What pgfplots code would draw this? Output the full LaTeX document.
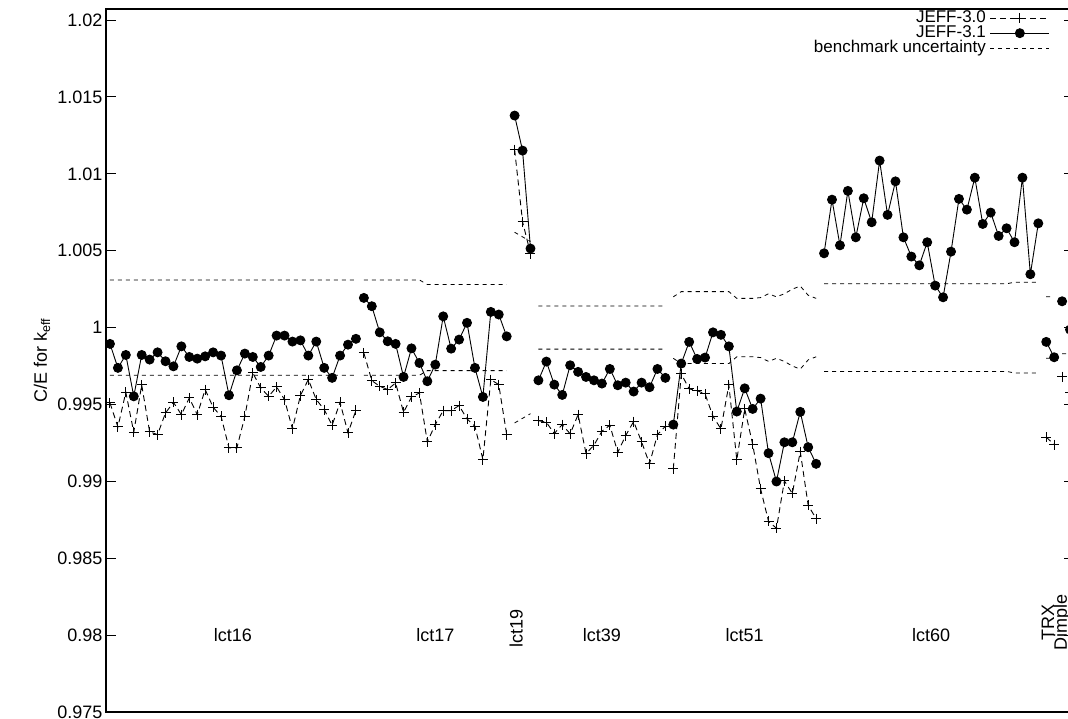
\documentclass[border=0pt]{standalone}
\usepackage{fontspec}
\setmainfont{Liberation Sans}
\usepackage{pgfplots}
\usepackage{pgfplotstable}
\pgfplotsset{compat=1.18}

% JEFF-3.1 (index, C/E); nan rows separate the benchmark groups
\pgfplotstableread{
x y
0 0.99894
1 0.99738
2 0.99822
3 0.99553
4 0.99822
5 0.99792
6 0.99839
7 0.99781
8 0.99748
9 0.99878
10 0.99809
11 0.99798
12 0.99813
13 0.99839
14 0.99818
15 0.99560
16 0.99722
17 0.99831
18 0.99809
19 0.99744
20 0.99818
21 0.99948
22 0.99948
23 0.99909
24 0.99917
25 0.99818
26 0.99909
27 0.99738
28 0.99673
29 0.99818
30 0.99889
31 0.99927
nan nan
32 1.00193
33 1.00139
34 0.99969
35 0.99911
36 0.99894
37 0.99679
38 0.99865
39 0.99770
40 0.99651
41 0.99759
42 1.00073
43 0.99863
44 0.99922
45 1.00031
46 0.99738
47 0.99549
48 1.00102
49 1.00085
50 0.99943
nan nan
51 1.01379
52 1.01151
53 1.00514
nan nan
54 0.99657
55 0.99779
56 0.99629
57 0.99562
58 0.99755
59 0.99712
60 0.99679
61 0.99657
62 0.99636
63 0.99731
64 0.99625
65 0.99642
66 0.99584
67 0.99642
68 0.99612
69 0.99731
70 0.99673
nan nan
71 0.99369
72 0.99766
73 0.99907
74 0.99796
75 0.99805
76 0.99969
77 0.99953
78 0.99878
79 0.99454
80 0.99605
81 0.99471
82 0.99538
83 0.99183
84 0.98999
85 0.99254
86 0.99254
87 0.99452
88 0.99222
89 0.99114
nan nan
90 1.00483
91 1.00832
92 1.00535
93 1.00889
94 1.00587
95 1.00841
96 1.00685
97 1.01086
98 1.00733
99 1.00951
100 1.00587
101 1.00462
102 1.00405
103 1.00555
104 1.00273
105 1.00197
106 1.00494
107 1.00837
108 1.00767
109 1.00975
110 1.00674
111 1.00748
112 1.00596
113 1.00646
114 1.00555
115 1.00975
116 1.00347
117 1.00678
nan nan
118 0.99907
119 0.99807
nan nan
120 1.00171
nan nan
121 0.99987
}\jeffone

% JEFF-3.0
\pgfplotstableread{
x y
0 0.99510
1 0.99354
2 0.99579
3 0.99319
4 0.99627
5 0.99322
6 0.99304
7 0.99445
8 0.99514
9 0.99434
10 0.99543
11 0.99434
12 0.99597
13 0.99482
14 0.99423
15 0.99218
16 0.99218
17 0.99423
18 0.99705
19 0.99608
20 0.99553
21 0.99614
22 0.99532
23 0.99341
24 0.99558
25 0.99662
26 0.99532
27 0.99467
28 0.99365
29 0.99514
30 0.99315
31 0.99462
nan nan
32 0.99835
33 0.99655
34 0.99618
35 0.99597
36 0.99640
37 0.99449
38 0.99549
39 0.99575
40 0.99257
41 0.99369
42 0.99460
43 0.99460
44 0.99493
45 0.99406
46 0.99358
47 0.99142
48 0.99662
49 0.99629
50 0.99304
nan nan
51 1.01157
52 1.00689
53 1.00481
nan nan
54 0.99395
55 0.99384
56 0.99311
57 0.99369
58 0.99309
59 0.99434
60 0.99181
61 0.99235
62 0.99326
63 0.99365
64 0.99189
65 0.99298
66 0.99389
67 0.99257
68 0.99114
69 0.99304
70 0.99358
nan nan
71 0.99081
72 0.99699
73 0.99601
74 0.99590
75 0.99569
76 0.99423
77 0.99341
78 0.99627
79 0.99140
80 0.99471
81 0.99241
82 0.98951
83 0.98740
84 0.98695
85 0.99003
86 0.98921
87 0.99194
88 0.98843
89 0.98758
nan nan
118 0.99288
119 0.99239
nan nan
120 0.99681
nan nan
121 0.99577
}\jeffzero

% benchmark uncertainty: upper and lower bounds
\pgfplotstableread{
x up lo
0 1.0031 0.9969
1 1.0031 0.9969
2 1.0031 0.9969
3 1.0031 0.9969
4 1.0031 0.9969
5 1.0031 0.9969
6 1.0031 0.9969
7 1.0031 0.9969
8 1.0031 0.9969
9 1.0031 0.9969
10 1.0031 0.9969
11 1.0031 0.9969
12 1.0031 0.9969
13 1.0031 0.9969
14 1.0031 0.9969
15 1.0031 0.9969
16 1.0031 0.9969
17 1.0031 0.9969
18 1.0031 0.9969
19 1.0031 0.9969
20 1.0031 0.9969
21 1.0031 0.9969
22 1.0031 0.9969
23 1.0031 0.9969
24 1.0031 0.9969
25 1.0031 0.9969
26 1.0031 0.9969
27 1.0031 0.9969
28 1.0031 0.9969
29 1.0031 0.9969
30 1.0031 0.9969
31 1.0031 0.9969
nan nan nan
32 1.0031 0.9969
33 1.0031 0.9969
34 1.0031 0.9969
35 1.0031 0.9969
36 1.0031 0.9969
37 1.0031 0.9969
38 1.0031 0.9969
39 1.0031 0.9969
40 1.0028 0.9972
41 1.0028 0.9972
42 1.0028 0.9972
43 1.0028 0.9972
44 1.0028 0.9972
45 1.0028 0.9972
46 1.0028 0.9972
47 1.0028 0.9972
48 1.0028 0.9972
49 1.0028 0.9972
50 1.0028 0.9972
nan nan nan
51 1.0062 0.9938
52 1.0059 0.9941
53 1.0056 0.9944
nan nan nan
54 1.0014 0.9986
55 1.0014 0.9986
56 1.0014 0.9986
57 1.0014 0.9986
58 1.0014 0.9986
59 1.0014 0.9986
60 1.0014 0.9986
61 1.0014 0.9986
62 1.0014 0.9986
63 1.0014 0.9986
64 1.0014 0.9986
65 1.0014 0.9986
66 1.0014 0.9986
67 1.0014 0.9986
68 1.0014 0.9986
69 1.0014 0.9986
70 1.0014 0.9986
nan nan nan
71 1.0020 0.9980
72 1.00234 0.99766
73 1.00234 0.99766
74 1.00234 0.99766
75 1.00234 0.99766
76 1.00234 0.99766
77 1.00234 0.99766
78 1.00234 0.99766
79 1.0019 0.9981
80 1.0019 0.9981
81 1.0019 0.9981
82 1.00195 0.99805
83 1.0022 0.9978
84 1.0020 0.9980
85 1.0022 0.9978
86 1.0025 0.9975
87 1.0027 0.9973
88 1.0021 0.9979
89 1.0019 0.9981
nan nan nan
90 1.00285 0.99715
91 1.00285 0.99715
92 1.00285 0.99715
93 1.00285 0.99715
94 1.00285 0.99715
95 1.00285 0.99715
96 1.00285 0.99715
97 1.00285 0.99715
98 1.00285 0.99715
99 1.00285 0.99715
100 1.00285 0.99715
101 1.00285 0.99715
102 1.00285 0.99715
103 1.00285 0.99715
104 1.00285 0.99715
105 1.00285 0.99715
106 1.00285 0.99715
107 1.00285 0.99715
108 1.00285 0.99715
109 1.00285 0.99715
110 1.00285 0.99715
111 1.00285 0.99715
112 1.00285 0.99715
113 1.00285 0.99715
114 1.00295 0.99705
115 1.00295 0.99705
116 1.00295 0.99705
117 1.00295 0.99705
nan nan nan
118 1.0020 0.9980
119 1.0020 0.9980
nan nan nan
120 1.0017 0.9983
121 1.0017 0.9983
}\unc

\begin{document}
\begin{tikzpicture}[font=\fontsize{18}{20}\selectfont]
\begin{axis}[
  scale only axis, width=968pt, height=703pt,
  xmin=-0.5, xmax=121.5, ymin=0.975, ymax=1.02072,
  clip=false,
  unbounded coords=jump,
  xtick=\empty,
  ytick={0.975,0.98,0.985,0.99,0.995,1,1.005,1.01,1.015,1.02},
  yticklabels={0.975,0.98,0.985,0.99,0.995,1,1.005,1.01,1.015,1.02},
  yticklabel style={font=\fontsize{18}{20}\selectfont},
  ytick pos=both, tick align=inside, major tick length=10pt,
  tick style={black, line width=1pt},
  axis line style={line width=1.2pt},
  legend plot pos=right,
  legend cell align=right,
  legend image code/.code={\draw[mark repeat=2,mark phase=2,#1] plot coordinates {(0pt,0pt) (29.5pt,0pt) (59pt,0pt)};},
  legend style={draw=none, fill=none, at={(1,1)}, anchor=north east,
    xshift=-24pt, yshift=-1.5pt, inner sep=0pt, row sep=0pt, column sep=4pt,
    nodes={inner sep=0pt, text height=12pt, text depth=3pt},
    font=\fontsize{17}{19}\selectfont},
]
\coordinate (SW) at (rel axis cs:0,0);
\coordinate (NE) at (rel axis cs:1,1);

\addplot[black, line width=0.9pt, dash pattern=on 6pt off 4pt,
  mark=+, mark size=5pt, mark options={solid, line width=1pt}]
  table[x=x, y=y] {\jeffzero};
\addlegendentry{JEFF-3.0}

\addplot[black, line width=0.9pt, solid,
  mark=*, mark size=4.5pt, mark options={solid, fill=black}]
  table[x=x, y=y] {\jeffone};
\addlegendentry{JEFF-3.1}

\addplot[black, line width=0.8pt, dash pattern=on 4pt off 4pt, no markers]
  table[x=x, y=up] {\unc};
\addlegendentry{benchmark uncertainty}
\addplot[black, line width=0.8pt, dash pattern=on 4pt off 4pt, no markers, forget plot]
  table[x=x, y=lo] {\unc};

\node[anchor=center] at (axis cs:15.5,0.98) {lct16};
\node[anchor=center] at (axis cs:41,0.98) {lct17};
\node[rotate=90, anchor=base] at (axis cs:52,0.9804) {lct19};
\node[anchor=center] at (axis cs:62,0.98) {lct39};
\node[anchor=center] at (axis cs:80,0.98) {lct51};
\node[anchor=center] at (axis cs:103.5,0.98) {lct60};
\node[rotate=90, anchor=base] at (axis cs:119,0.9808) {TRX};
\node[rotate=90, anchor=base] at (axis cs:120.6,0.9808) {Dimple};

\node[rotate=90, anchor=center] at ([xshift=-64pt]rel axis cs:0,0.5) {C/E for k\textsubscript{eff}};
\end{axis}
\pgfresetboundingbox
\path[use as bounding box] ([xshift=-106pt,yshift=-7pt]SW) rectangle ([xshift=-6pt,yshift=9pt]NE);
\end{tikzpicture}
\end{document}
